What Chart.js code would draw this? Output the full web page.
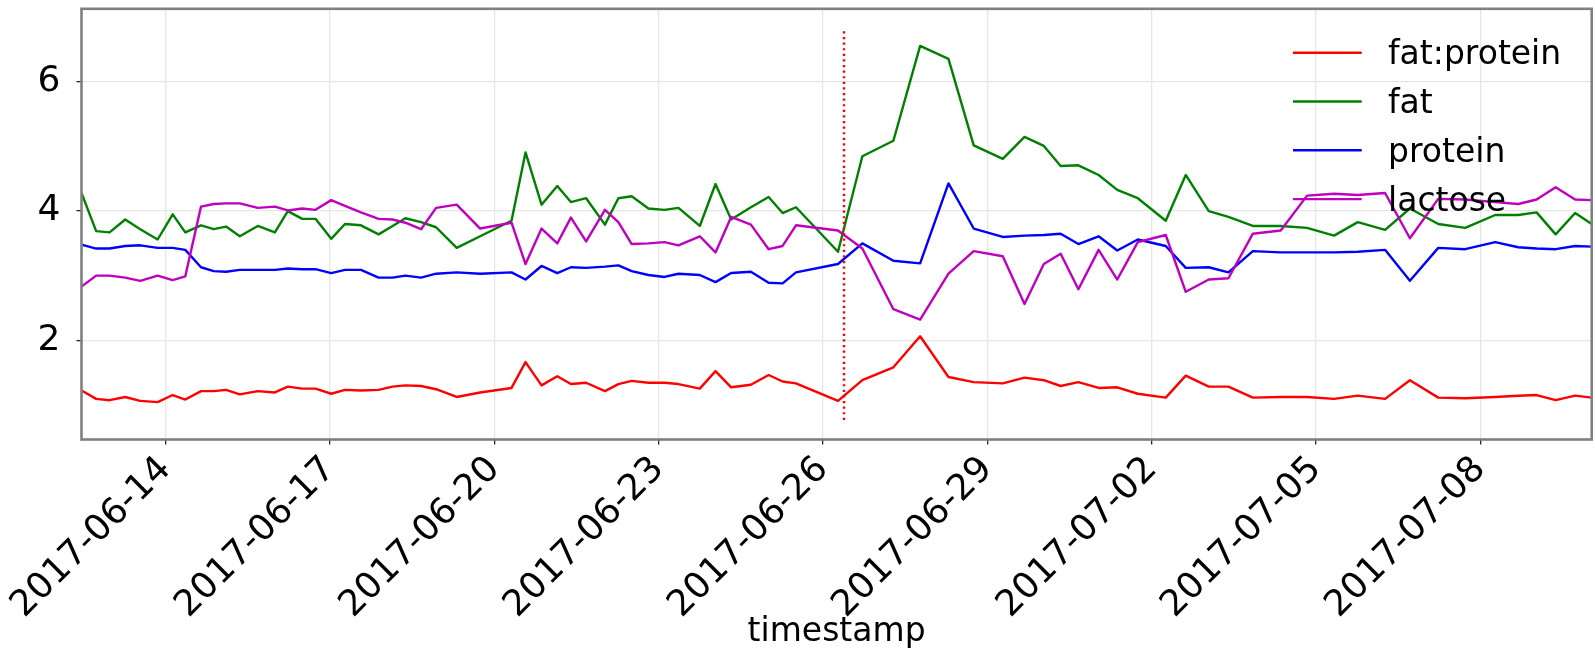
<!DOCTYPE html>
<html>
<head>
<meta charset="utf-8">
<title>Milk composition</title>
<script src="https://cdn.jsdelivr.net/npm/chart.js@4.4.1/dist/chart.umd.min.js"></script>
<style>
  html, body { margin: 0; padding: 0; background: #ffffff; }
  #chart { display: block; }
</style>
</head>
<body>
<canvas id="chart" width="1595" height="649"></canvas>
<script>
// Sample times (UTC) and measured values per sample
const timestamps = [
  '2017-06-12 11:10', '2017-06-12 17:35', '2017-06-12 23:28', '2017-06-13 06:19', '2017-06-13 12:54',
  '2017-06-13 20:32', '2017-06-14 03:07', '2017-06-14 08:39', '2017-06-14 15:32', '2017-06-14 21:07',
  '2017-06-15 02:30', '2017-06-15 08:31', '2017-06-15 16:25', '2017-06-15 23:53', '2017-06-16 05:35',
  '2017-06-16 11:52', '2017-06-16 17:41', '2017-06-17 00:35', '2017-06-17 06:36', '2017-06-17 13:37',
  '2017-06-17 21:20', '2017-06-18 03:29', '2017-06-18 09:04', '2017-06-18 15:57', '2017-06-18 22:32',
  '2017-06-19 07:34', '2017-06-19 17:50', '2017-06-20 07:35', '2017-06-20 13:43', '2017-06-20 20:44',
  '2017-06-21 03:38', '2017-06-21 09:36', '2017-06-21 16:16', '2017-06-22 00:31', '2017-06-22 06:24',
  '2017-06-22 12:14', '2017-06-22 19:34', '2017-06-23 02:35', '2017-06-23 08:44', '2017-06-23 18:05',
  '2017-06-24 00:58', '2017-06-24 07:49', '2017-06-24 16:28', '2017-06-25 00:14', '2017-06-25 06:22',
  '2017-06-25 12:13', '2017-06-26 06:38', '2017-06-26 17:18', '2017-06-27 06:54', '2017-06-27 18:37',
  '2017-06-28 07:02', '2017-06-28 18:06', '2017-06-29 06:50', '2017-06-29 16:21', '2017-06-30 00:49',
  '2017-06-30 08:11', '2017-06-30 15:58', '2017-07-01 00:49', '2017-07-01 08:59', '2017-07-01 17:59',
  '2017-07-02 06:14', '2017-07-02 15:00', '2017-07-03 01:05', '2017-07-03 09:42', '2017-07-03 20:24',
  '2017-07-04 08:37', '2017-07-04 20:09', '2017-07-05 07:59', '2017-07-05 18:23', '2017-07-06 06:20',
  '2017-07-06 17:13', '2017-07-07 05:38', '2017-07-07 17:26', '2017-07-08 06:36', '2017-07-08 16:42',
  '2017-07-09 00:44', '2017-07-09 09:04', '2017-07-09 17:37', '2017-07-10 00:52'
];

const fatProtein = [
  1.22, 1.09, 1.07, 1.12, 1.06, 1.04, 1.15, 1.08, 1.21, 1.21,
  1.23, 1.16, 1.21, 1.19, 1.28, 1.25, 1.25, 1.17, 1.23, 1.22,
  1.23, 1.28, 1.30, 1.29, 1.24, 1.12, 1.19, 1.26, 1.66, 1.30,
  1.44, 1.32, 1.34, 1.21, 1.32, 1.37, 1.34, 1.34, 1.32, 1.25,
  1.52, 1.27, 1.31, 1.46, 1.36, 1.33, 1.06, 1.38, 1.58, 2.06,
  1.43, 1.35, 1.33, 1.42, 1.38, 1.29, 1.35, 1.26, 1.27, 1.17,
  1.11, 1.45, 1.28, 1.28, 1.11, 1.12, 1.12, 1.09, 1.14, 1.09,
  1.38, 1.11, 1.10, 1.12, 1.14, 1.15, 1.07, 1.14, 1.11
];

const fat = [
  4.28, 3.69, 3.67, 3.87, 3.72, 3.56, 3.95, 3.67, 3.78, 3.72,
  3.76, 3.61, 3.77, 3.67, 4.00, 3.88, 3.88, 3.57, 3.80, 3.78,
  3.64, 3.77, 3.89, 3.83, 3.75, 3.43, 3.61, 3.85, 4.91, 4.10,
  4.39, 4.14, 4.20, 3.79, 4.20, 4.23, 4.04, 4.02, 4.05, 3.77,
  4.42, 3.87, 4.06, 4.22, 3.97, 4.06, 3.37, 4.85, 5.09, 6.56,
  6.36, 5.02, 4.81, 5.15, 5.01, 4.70, 4.71, 4.56, 4.33, 4.20,
  3.85, 4.56, 4.00, 3.91, 3.77, 3.77, 3.74, 3.62, 3.83, 3.71,
  4.04, 3.80, 3.74, 3.94, 3.94, 3.98, 3.64, 3.97, 3.80
];

const protein = [
  3.48, 3.42, 3.42, 3.46, 3.47, 3.43, 3.43, 3.40, 3.13, 3.07,
  3.06, 3.09, 3.09, 3.09, 3.11, 3.10, 3.10, 3.04, 3.09, 3.09,
  2.97, 2.97, 3.00, 2.97, 3.03, 3.05, 3.03, 3.05, 2.94, 3.15,
  3.04, 3.13, 3.12, 3.14, 3.16, 3.07, 3.01, 2.98, 3.03, 3.01,
  2.90, 3.04, 3.06, 2.89, 2.88, 3.05, 3.18, 3.50, 3.23, 3.19,
  4.43, 3.73, 3.60, 3.62, 3.63, 3.65, 3.49, 3.61, 3.39, 3.56,
  3.46, 3.12, 3.13, 3.05, 3.38, 3.36, 3.36, 3.36, 3.37, 3.40,
  2.92, 3.43, 3.41, 3.52, 3.44, 3.42, 3.41, 3.46, 3.45
];

const lactose = [
  2.83, 3.00, 3.00, 2.97, 2.92, 3.00, 2.93, 2.99, 4.07, 4.11,
  4.12, 4.12, 4.05, 4.07, 4.01, 4.04, 4.02, 4.17, 4.08, 3.98,
  3.88, 3.87, 3.82, 3.72, 4.05, 4.10, 3.73, 3.82, 3.18, 3.73,
  3.50, 3.90, 3.53, 4.02, 3.83, 3.49, 3.50, 3.52, 3.47, 3.61,
  3.36, 3.91, 3.79, 3.41, 3.46, 3.78, 3.70, 3.42, 2.48, 2.32,
  3.03, 3.38, 3.30, 2.56, 3.18, 3.34, 2.79, 3.40, 2.94, 3.52,
  3.63, 2.75, 2.94, 2.96, 3.65, 3.70, 4.24, 4.27, 4.25, 4.28,
  3.58, 4.19, 4.18, 4.14, 4.11, 4.18, 4.37, 4.18, 4.17
];

// Marker for the event time, spanning the value range
const eventTime = '2017-06-26 09:16';
const eventSpan = [0.764, 6.826];

const xTickLabels = ['2017-06-14', '2017-06-17', '2017-06-20', '2017-06-23', '2017-06-26',
                     '2017-06-29', '2017-07-02', '2017-07-05', '2017-07-08'];
const yTickValues = [2, 4, 6];
const yRange = [0.461, 7.135];

const FONT = '"DejaVu Sans", "Liberation Sans", sans-serif';

function toMs(s) {
  const [d, t] = s.split(' ');
  const [Y, M, D] = d.split('-').map(Number);
  const [h, m] = (t || '00:00').split(':').map(Number);
  return Date.UTC(Y, M - 1, D, h, m);
}
function fmtDate(ms) {
  return new Date(ms).toISOString().slice(0, 10);
}
function series(values) {
  return values.map((v, i) => ({ x: toMs(timestamps[i]), y: v }));
}

const lineStyle = { borderWidth: 2.4, pointRadius: 0, fill: false, tension: 0, borderJoinStyle: 'round', borderCapStyle: 'butt' };

// Legend drawn in the upper right corner of the plot, without a frame
const insideLegend = {
  id: 'insideLegend',
  afterDraw(chart) {
    const ctx = chart.ctx, a = chart.chartArea;
    const items = chart.data.datasets.filter(d => !d.hideFromLegend);
    ctx.save();
    ctx.font = '33px ' + FONT;
    ctx.textAlign = 'left';
    ctx.textBaseline = 'alphabetic';
    items.forEach((d, i) => {
      const y = a.top + 43.9 + i * 48.8;
      ctx.strokeStyle = d.borderColor;
      ctx.lineWidth = 2.4;
      ctx.beginPath();
      ctx.moveTo(a.right - 298.7, y);
      ctx.lineTo(a.right - 230, y);
      ctx.stroke();
      ctx.fillStyle = '#000000';
      ctx.fillText(d.label, a.right - 203.7, y + 11.5);
    });
    ctx.restore();
  }
};

// Grey frame around the plotting area
const plotFrame = {
  id: 'plotFrame',
  afterDatasetsDraw(chart) {
    const ctx = chart.ctx, a = chart.chartArea;
    ctx.save();
    ctx.strokeStyle = '#808080';
    ctx.lineWidth = 2.6;
    ctx.strokeRect(a.left, a.top, a.right - a.left, a.bottom - a.top);
    ctx.restore();
  }
};

new Chart(document.getElementById('chart'), {
  type: 'line',
  data: {
    datasets: [
      { label: 'fat:protein', data: series(fatProtein), borderColor: '#ff0000', order: 4, ...lineStyle },
      { label: 'fat', data: series(fat), borderColor: '#008000', order: 3, ...lineStyle },
      { label: 'protein', data: series(protein), borderColor: '#0000ff', order: 2, ...lineStyle },
      { label: 'lactose', data: series(lactose), borderColor: '#bf00bf', order: 1, ...lineStyle },
      {
        label: 'event',
        data: eventSpan.map(v => ({ x: toMs(eventTime), y: v })),
        borderColor: '#ff0000', borderDash: [2.2, 3.4], order: 0, hideFromLegend: true,
        ...lineStyle
      }
    ]
  },
  options: {
    responsive: false,
    animation: false,
    devicePixelRatio: 1,
    events: [],
    layout: { padding: { left: 0, top: 8.8, right: 3.3, bottom: 0 } },
    plugins: { legend: { display: false }, tooltip: { enabled: false }, title: { display: false } },
    scales: {
      x: {
        type: 'linear',
        min: toMs(timestamps[0]),
        max: toMs(timestamps[timestamps.length - 1]),
        afterBuildTicks(scale) { scale.ticks = xTickLabels.map(s => ({ value: toMs(s) })); },
        afterFit(scale) {
          scale.height = 209.5;
          scale.paddingLeft = 0; scale.paddingRight = 0; scale.paddingTop = 0; scale.paddingBottom = 0;
        },
        border: { display: false },
        grid: { color: '#e6e6e6', lineWidth: 1.3, drawTicks: true, tickLength: 5, tickColor: '#262626', tickWidth: 1.3 },
        ticks: {
          autoSkip: false, maxRotation: 45, minRotation: 45, padding: 4,
          color: '#000000', font: { family: FONT, size: 36 },
          callback: (v) => fmtDate(v)
        },
        title: { display: true, text: 'timestamp', color: '#000000', font: { family: FONT, size: 33, lineHeight: 1 }, padding: { top: 0, bottom: 0 } }
      },
      y: {
        min: yRange[0],
        max: yRange[1],
        afterBuildTicks(scale) { scale.ticks = yTickValues.map(v => ({ value: v })); },
        afterFit(scale) {
          scale.width = 81.5;
          scale.paddingLeft = 0; scale.paddingRight = 0; scale.paddingTop = 0; scale.paddingBottom = 0;
        },
        border: { display: false },
        grid: { color: '#e6e6e6', lineWidth: 1.3, drawTicks: true, tickLength: 5, tickColor: '#262626', tickWidth: 1.3 },
        ticks: { padding: 16, color: '#000000', font: { family: FONT, size: 36 }, callback: (v) => String(v) }
      }
    }
  },
  plugins: [plotFrame, insideLegend]
});
</script>
</body>
</html>
